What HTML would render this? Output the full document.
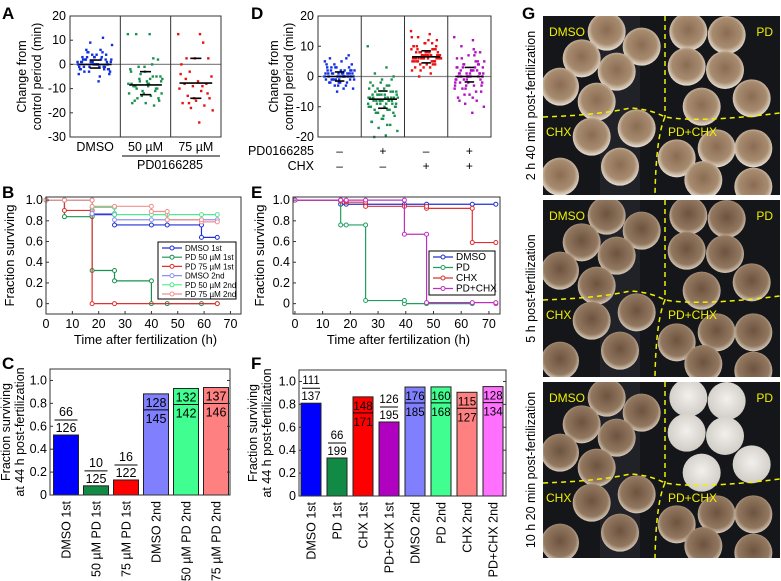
<!DOCTYPE html>
<html><head><meta charset="utf-8"><style>
html,body{margin:0;padding:0;background:#fff;}
svg{display:block;font-family:"Liberation Sans",Arial,sans-serif;}
</style></head><body>
<svg id="fig" width="781" height="581" viewBox="0 0 781 581" xmlns="http://www.w3.org/2000/svg">
<defs>
<radialGradient id="eggA" cx="50%" cy="45%" r="55%"><stop offset="0%" stop-color="#8a6c52"/><stop offset="70%" stop-color="#a88c70"/><stop offset="100%" stop-color="#e8e0d4"/></radialGradient>
<radialGradient id="eggB" cx="50%" cy="45%" r="55%"><stop offset="0%" stop-color="#6d5440"/><stop offset="75%" stop-color="#937860"/><stop offset="100%" stop-color="#d8ccbc"/></radialGradient>
<radialGradient id="eggW" cx="50%" cy="45%" r="55%"><stop offset="0%" stop-color="#f2f0ec"/><stop offset="100%" stop-color="#d0ccc6"/></radialGradient>
<clipPath id="cp1"><rect x="543" y="16" width="237" height="179"/></clipPath>
<clipPath id="cp2"><rect x="543" y="200" width="237" height="177"/></clipPath>
<clipPath id="cp3"><rect x="543" y="382" width="237" height="176"/></clipPath>
</defs>
</svg>
<script>
// ---------- data ----------
const aCats=["DMSO","50 µM","75 µM"];
const aDMSO=[1,-1,2,0,3,-2,5,-3,1,0,-1,2,4,-4,6,3,-2,0,1,-1,9,8,-7,2,1,0,-2,3,5,-3,4,2,-1,1,0,-5,6,-2,3,1,11,-1,2,0,-3,4,1,-1,2,5,-4,0,3,-2,1];
const a50=[12.5,12.5,12.5,2,-1,-3,-5,-6,-7,-8,-9,-10,-11,-12,-13,-14,-15,-16,-16,-17,-4,-6,-8,-9,-10,-12,-2,0,-1,-5,-7,-9,-11,-13,-8,-6,-10,-14,-3,-8,2.5,-7,-12,-9,-15,-5];
const a75=[12.5,12.5,2.5,2.5,2.5,0,9,-3,-5,-7,-8,-8,-9,-10,-11,-13,-14,-15,-16,-17,-18,-19,-24,-6,-12,-14,-4,-9,-16];
const aMean=[0,-8.5,-7.7], aQ1=[-1.5,-12.5,-14], aQ3=[1.8,-3,2.5];
const aTicks=[20,10,0,-10,-20,-30];

const dDMSO=[0,1,-1,2,-2,3,-3,4,-4,5,6,7,-5,1,0,-1,2,0,1,-2,3,-1,0,2,1,-3,4,0,-1,1,2,-2,0,3,5,-4,1,0,-1,2,6,-3,0,1,-2,3,0,-1,2,1,4,-2,0,1,-1,2,0,3,-1,1];
const dPD=[10,3,1,0,-1,-2,-3,-4,-5,-6,-7,-8,-9,-10,-11,-12,-13,-14,-15,-16,-17,-18,-19.5,-20,-5,-6,-7,-8,-9,-10,-4,-6,-7,-8,-9,-3,-5,-7,-8,-10,-11,-12,-6,-7,-8,-9,-2,-4,-7,-8,-10,-13,-15,-5,-6,-7,-9,-11,-12,-14,-7,-8,-6,-9,-10,-3,-1,-8,-7,-16];
const dCHX=[15,14,13,12,11,10,9,8,7,6,5,4,3,2,1,0,8,7,6,5,7,6,8,9,10,11,6,5,4,7,8,6,5,7,9,3,6,7,8,5,4,6,7,12,10,9,6,5,7,8,6,4,3,9,7,6,8,5,6,7,10,11,2,6,7,8,5,6,13,7];
const dPC=[13,12,10,8,7,6,5,4,3,2,1,0,-1,-2,-3,-4,-5,-6,-7,-8,-9,-10,-12,2,1,0,-1,3,4,-2,0,1,5,-3,-4,2,6,-1,0,3,-5,-6,1,2,-2,4,0,-1,7,3,-3,1,0,2,-4,5,-7,0,1,-2,3,8,-1,0,2,-8,4,1,-3,9];
const dMean=[0,-7.5,6.5,0], dQ1=[-1.5,-10.5,4.5,-1.8], dQ3=[1.5,-4.8,8.5,3];
const dTicks=[20,10,0,-10,-20];
const dPDsign=["–","+","–","+"], dCHXsign=["–","–","+","+"];

const bNames=["DMSO 1st","PD 50 µM 1st","PD 75 µM 1st","DMSO 2nd","PD 50 µM 2nd","PD 75 µM 2nd"];
const bTimes=[[0,7,17.5,26,40,46,59,65],[0,7,17.5,26,40,46,59,65],[0,7,17.5,26,65],[0,7,17.5,26,40,46,59,65],[0,7,17.5,26,40,46,59,65],[0,7,17.5,26,40,46,59,65]];
const bSurv=[[1,1,0.86,0.76,0.76,0.76,0.64,0.64],[1,0.84,0.32,0.22,0,0,0,0],[1,0.9,0,0,0],[1,1,0.87,0.81,0.81,0.81,0.81,0.81],[1,1,0.93,0.86,0.86,0.86,0.86,0.86],[1,1,0.94,0.94,0.89,0.81,0.79,0.79]];
const eNames=["DMSO","PD","CHX","PD+CHX"];
const eTimes=[[0,16.5,18.5,25.5,39.5,47.5,64,72.5],[0,16.5,18.5,25.5,39.5,47.5,64],[0,16.5,18.5,25.5,39.5,47.5,64,72.5],[0,16.5,18.5,25.5,39.5,47.5,64,72.5]];
const eSurv=[[1,0.96,0.96,0.96,0.96,0.96,0.96,0.96],[1,0.76,0.76,0.03,0,0,0],[1,0.99,0.98,0.94,0.94,0.92,0.59,0.59],[1,1,1,1,0.67,0.01,0.01,0]];
const survXTicks=[0,10,20,30,40,50,60,70];
const survYTicks=[0,0.2,0.4,0.6,0.8,1.0];

const cCats=["DMSO 1st","50 µM PD 1st","75 µM PD 1st","DMSO 2nd","50 µM PD 2nd","75 µM PD 2nd"];
const cNum=[66,10,16,128,132,137];
const cDen=[126,125,122,145,142,146];
const fCats=["DMSO 1st","PD 1st","CHX 1st","PD+CHX 1st","DMSO 2nd","PD 2nd","CHX 2nd","PD+CHX 2nd"];
const fNum=[111,66,148,126,176,160,115,128];
const fDen=[137,199,171,195,185,168,127,134];
const barTicks=[0,0.2,0.4,0.6,0.8,1.0];

// ---------- helpers ----------
const svg=document.getElementById('fig');
const NS="http://www.w3.org/2000/svg";
function mk(tag,attrs,parent){const e=document.createElementNS(NS,tag);for(const k in attrs)e.setAttribute(k,attrs[k]);(parent||svg).appendChild(e);return e;}
function txt(s,x,y,size,anchor,parent,extra){const e=mk('text',Object.assign({x:x,y:y,'font-size':size,'text-anchor':anchor||'middle',fill:'#000'},extra||{}),parent);e.textContent=s;return e;}
function grp(name){const g=mk('g',{});return g;}
function lin(x0,x1,d0,d1){return v=>x0+(v-d0)/(d1-d0)*(x1-x0);}

[["A",2,19],["B",2,198],["C",2,369],["D",251,19],["E",251,198],["F",251,369],["G",522,19]].forEach(p=>{
  const t=txt(p[0],p[1],p[2],17,'start',null,{'font-weight':'bold'});
  
  
});

// ---------- scatter panels ----------
function scatter(name,x0,x1,y0,y1,ymin,ymax,ticks,groups,colors,means,q1,q3,titleX){
  const g=grp(name);
  const Y=lin(y1,y0,ymin,ymax);
  const n=groups.length, w=(x1-x0)/n;
  mk('line',{x1:x0,x2:x1,y1:Y(0),y2:Y(0),stroke:'#888','stroke-width':1.2},g);
  groups.forEach((vals,gi)=>{
    const cx=x0+w*(gi+0.5);
    vals.forEach((v,i)=>{
      const off=(((i*0.618034)%1)-0.5)*w*0.7;
      const r=mk('rect',{x:cx+off-1.2,y:Y(v)-1.2,width:2.4,height:2.4,fill:colors[gi]},g);
      
      
    });
    [[means[gi],w*0.65],[q1[gi],w*0.22],[q3[gi],w*0.22]].forEach(m=>{
      const l=mk('line',{x1:cx-m[1]/2,x2:cx+m[1]/2,y1:Y(m[0]),y2:Y(m[0]),stroke:'#000','stroke-width':1.6},g);
      
      
    });
    if(gi>0)mk('line',{x1:x0+w*gi,x2:x0+w*gi,y1:y0,y2:y1,stroke:'#333','stroke-width':1},g);
  });
  mk('rect',{x:x0,y:y0,width:x1-x0,height:y1-y0,fill:'none',stroke:'#333','stroke-width':1},g);
  ticks.forEach(t=>{mk('line',{x1:x0,x2:x0+3,y1:Y(t),y2:Y(t),stroke:'#333'},g);txt(String(t),x0-4,Y(t)+4,12.5,'end',g);});
  const tt=txt('Change from',0,0,12.5,'middle',g,{transform:`translate(${titleX},${(y0+y1)/2}) rotate(-90)`});
  
  
  txt('control period (min)',0,0,12.5,'middle',g,{transform:`translate(${titleX+15},${(y0+y1)/2}) rotate(-90)`});
  return {g,w};
}
const A=scatter('panel-a-scatter',70,221,16,137,-30,20,aTicks,[aDMSO,a50,a75],['#1030e0','#1a9050','#e81010'],aMean,aQ1,aQ3,26);
aCats.forEach((c,i)=>{const t=txt(c,70+A.w*(i+0.5),151,12.5,'middle',A.g);});
mk('line',{x1:122,x2:220,y1:156,y2:156,stroke:'#000'},A.g);
txt('PD0166285',170,169,12.5,'middle',A.g);

const D=scatter('panel-d-scatter',318,491,16,137,-20,20,dTicks,[dDMSO,dPD,dCHX,dPC],['#1030e0','#1a9050','#e81010','#b010c0'],dMean,dQ1,dQ3,278);
txt('PD0166285',314,155,12.5,'end',D.g);
txt('CHX',314,170,12.5,'end',D.g);
dPDsign.forEach((s,i)=>{txt(s,318+D.w*(i+0.5),155,12,'middle',D.g);txt(dCHXsign[i],318+D.w*(i+0.5),170,12,'middle',D.g);});

// ---------- survival panels ----------
function surv(name,x0,x1,y0,y1,xmin,xmax,names,times,survs,colors,leg,titleX){
  const g=grp(name);
  const X=lin(x0,x1,xmin,xmax), Y=lin(y1,y0,-0.1,1.03);
  times.forEach((ts,si)=>{
    const s=survs[si];let d=`M${X(ts[0])},${Y(s[0])}`;
    for(let i=1;i<ts.length;i++){d+=` H${X(ts[i])} V${Y(s[i])}`;}
    const p=mk('path',{d:d,fill:'none',stroke:colors[si],'stroke-width':1.2},g);
    
    
    for(let i=0;i<ts.length;i++){
      mk('circle',{cx:X(ts[i]),cy:Y(s[i]),r:2,fill:'#fff',stroke:colors[si],'stroke-width':1},g);
      if(i>0&&s[i]!==s[i-1])mk('circle',{cx:X(ts[i]),cy:Y(s[i-1]),r:2,fill:'#fff',stroke:colors[si],'stroke-width':1},g);
    }
  });
  mk('rect',{x:x0,y:y0,width:x1-x0,height:y1-y0,fill:'none',stroke:'#333'},g);
  survXTicks.forEach(t=>{mk('line',{x1:X(t),x2:X(t),y1:y1,y2:y1-3,stroke:'#333'},g);txt(String(t),X(t),y1+14,12.5,'middle',g);});
  survYTicks.forEach(t=>{mk('line',{x1:x0,x2:x0+3,y1:Y(t),y2:Y(t),stroke:'#333'},g);txt(t===0?'0':t.toFixed(1),x0-3,Y(t)+4,12.5,'end',g);});
  txt('Time after fertilization (h)',(x0+x1)/2+2,y1+30,13,'middle',g);
  txt('Fraction surviving',0,0,13,'middle',g,{transform:`translate(${titleX},${(y0+y1)/2}) rotate(-90)`});
  const lg=mk('g',{},g);
  mk('rect',{x:leg.x,y:leg.y,width:leg.w,height:leg.h,fill:'#fff',stroke:'#000'},lg);
  names.forEach((n,i)=>{
    const yy=leg.y+leg.pad+i*leg.dy;
    const e=mk('g',{},lg);
    mk('line',{x1:leg.x+4,x2:leg.x+4+leg.lw,y1:yy,y2:yy,stroke:colors[i],'stroke-width':1.2},e);
    mk('circle',{cx:leg.x+4+leg.lw/2,cy:yy,r:2,fill:'#fff',stroke:colors[i]},e);
    txt(n,leg.x+7+leg.lw,yy+3,leg.fs,'start',e);
  });
}
surv('panel-b-survival',46,241,197,314,0,74,bNames,bTimes,bSurv,['#2030d0','#1a9050','#e03030','#9090f0','#50e890','#f09090'],{x:158,y:242,w:78,h:57,pad:6,dy:9.2,lw:20,fs:8},14);
surv('panel-e-survival',293,500,197,314,-0.7,74,eNames,eTimes,eSurv,['#2030d0','#20a060','#e03030','#c030c0'],{x:429,y:251,w:66,h:44,pad:6,dy:10.5,lw:20,fs:10},264);

// ---------- bar panels ----------
function bars(name,x0,x1,y0,y1,cats,num,den,colors,inside,c0,step,bw,fs,t1x,t2x){
  const g=grp(name);
  const Y=lin(y1,y0,0,1.1);
  cats.forEach((c,i)=>{
    const v=num[i]/den[i], cx=c0+step*i, top=Y(v);
    const r=mk('rect',{x:cx-bw/2,y:top,width:bw,height:y1-top,fill:colors[i],stroke:'#222','stroke-width':1},g);
    
    
    if(inside[i]){
      txt(String(num[i]),cx,top+13,fs,'middle',g);
      mk('line',{x1:cx-bw/2,x2:cx+bw/2,y1:top+16,y2:top+16,stroke:'#000'},g);
      txt(String(den[i]),cx,top+29,fs,'middle',g);
    }else{
      txt(String(num[i]),cx,top-19,fs,'middle',g);
      mk('line',{x1:cx-bw/2+1,x2:cx+bw/2-1,y1:top-15,y2:top-15,stroke:'#000'},g);
      txt(String(den[i]),cx,top-3,fs,'middle',g);
    }
    const t=txt(c,0,0,12.5,'end',g,{transform:`translate(${cx+4.5},${y1+6}) rotate(-90)`});
    
    
  });
  mk('rect',{x:x0,y:y0,width:x1-x0,height:y1-y0,fill:'none',stroke:'#333'},g);
  barTicks.forEach(t=>{mk('line',{x1:x0,x2:x0+3,y1:Y(t),y2:Y(t),stroke:'#333'},g);mk('line',{x1:x1,x2:x1-3,y1:Y(t),y2:Y(t),stroke:'#333'},g);txt(t===0?'0':t.toFixed(1),x0-3,Y(t)+4,12.5,'end',g);});
  txt('Fraction surviving',0,0,12.5,'middle',g,{transform:`translate(${t1x},${(y0+y1)/2}) rotate(-90)`});
  txt('at 44 h post-fertilization',0,0,12.5,'middle',g,{transform:`translate(${t2x},${(y0+y1)/2}) rotate(-90)`});
}
bars('panel-c-bars',50,230,369,495,cCats,cNum,cDen,['#0000ff','#108a45','#ff0000','#8080ff','#40ff90','#ff8080'],[0,0,0,1,1,1],66,30,25,12.5,10,24);
bars('panel-f-bars',299,506,370,496,fCats,fNum,fDen,['#0000ff','#108a45','#ff0000','#b000c0','#8080ff','#40ff90','#ff8080','#ff70ff'],[0,0,1,0,1,1,1,1],311,26,20,11.5,257,271);

// ---------- panel G photos ----------
const gG=grp('panel-g-photos');
const eggs=[[260,95],[365,140],[185,175],[290,215],[120,260],[230,305],[505,95],[620,105],[500,200],[615,210],[545,320],[695,295],[215,410],[350,385],[300,500],[120,530],[470,475],[590,445],[700,445],[550,540],[700,560]];
const photos=[{y:16,h:179,clip:'cp1',hy:117,t:'2 h 40 min post-fertilization',fill:'url(#eggA)',white:false},{y:200,h:177,clip:'cp2',hy:300,t:'5 h post-fertilization',fill:'url(#eggB)',white:false},{y:382,h:176,clip:'cp3',hy:483,t:'10 h 20 min post-fertilization',fill:'url(#eggB)',white:true}];
photos.forEach((p,pi)=>{
  const pg=mk('g',{'clip-path':`url(#${p.clip})`},gG);
  
  
  mk('rect',{x:543,y:p.y,width:237,height:p.h,fill:'#15161a'},pg);
  mk('rect',{x:600,y:p.y,width:40,height:p.h,fill:'#2a2c30',opacity:0.6},pg);
  eggs.forEach(e=>{
    const ex=520+e[0]/3, ey=p.y+(e[1]/3-16);
    const isPD=ex>665&&ey<p.hy;
    mk('circle',{cx:ex,cy:ey,r:19,fill:(p.white&&isPD)?'url(#eggW)':p.fill},pg);
  });
  const yy=p.hy;
  mk('path',{d:`M665,${p.y} L665,${yy} M543,${yy} Q600,${yy-2} 630,${yy-9} Q650,${yy-8} 665,${yy} Q700,${yy+6} 780,${yy-4} M665,${yy} Q656,${yy+20} 655,${p.y+p.h}`,fill:'none',stroke:'#f0f000','stroke-width':1.5,'stroke-dasharray':'5,4'},pg);
  txt('DMSO',549,p.y+20,12,'start',pg,{fill:'#f0f000'});
  txt('PD',773,p.y+20,12,'end',pg,{fill:'#f0f000'});
  txt('CHX',546,yy+19,12,'start',pg,{fill:'#f0f000'});
  txt('PD+CHX',668,yy+19,12,'start',pg,{fill:'#f0f000'});
  const rl=txt(p.t,0,0,12.5,'middle',gG,{transform:`translate(${535},${p.y+p.h/2}) rotate(-90)`});
  
  
});
</script>
</body></html>
